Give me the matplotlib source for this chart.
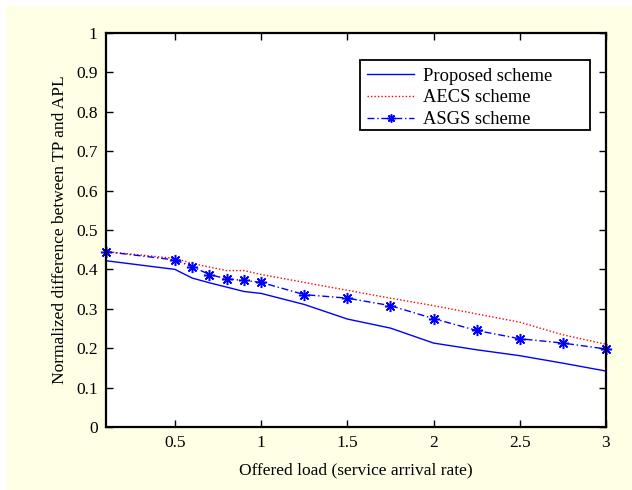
import matplotlib
matplotlib.use("Agg")
import matplotlib.pyplot as plt
from matplotlib.patches import Rectangle

x_asgs = [0.1, 0.5, 0.6, 0.7, 0.8, 0.9, 1.0, 1.25, 1.5, 1.75, 2.0, 2.25, 2.5, 2.75, 3.0]
y_asgs = [0.445, 0.424, 0.407, 0.387, 0.376, 0.372, 0.367, 0.336, 0.327, 0.308, 0.275, 0.245, 0.224, 0.213, 0.198]

x_prop = [0.1, 0.5, 0.6, 0.7, 0.8, 0.9, 1.0, 1.25, 1.5, 1.75, 2.0, 2.25, 2.5, 2.75, 3.0]
y_prop = [0.422, 0.400, 0.378, 0.366, 0.355, 0.344, 0.339, 0.311, 0.274, 0.251, 0.213, 0.196, 0.181, 0.162, 0.142]

x_aecs = [0.1, 0.5, 0.6, 0.7, 0.8, 0.9, 1.0, 1.25, 1.5, 1.75, 2.0, 2.25, 2.5, 2.75, 3.0]
y_aecs = [0.445, 0.428, 0.415, 0.406, 0.397, 0.397, 0.387, 0.367, 0.347, 0.327, 0.308, 0.287, 0.266, 0.234, 0.210]

labels = ["Proposed scheme", "AECS scheme", "ASGS scheme"]
xticks = [0.5, 1, 1.5, 2, 2.5, 3]
yticks = [0, 0.1, 0.2, 0.3, 0.4, 0.5, 0.6, 0.7, 0.8, 0.9, 1]

plt.rcParams['font.family'] = ['Liberation Serif', 'DejaVu Serif']

fig = plt.figure(figsize=(6.32, 4.90), dpi=100, facecolor='white')
fig.patches.append(Rectangle((6/632, 0), 1 - 6/632, 1 - 6/490, transform=fig.transFigure,
                             facecolor='#FFFFE6', edgecolor='none', zorder=-10))
ax = fig.add_axes([106/632, 1 - 427/490, 500/632, 394/490])
ax.set_facecolor('white')

ax.plot(x_prop, y_prop, color='#0000FF', lw=1.0, label=labels[0])
ax.plot(x_aecs, y_aecs, color='#FF0000', lw=1.0, ls=(0, (1, 1.5)), label=labels[1])
ax.plot(x_asgs, y_asgs, color='#0000FF', lw=1.0, ls=(0, (5, 2, 1, 2)), marker=(8, 2, 0),
        markersize=8, markeredgewidth=1.1, label=labels[2], clip_on=False)

ax.set_xlim(0.1, 3)
ax.set_ylim(0, 1)
ax.set_xticks(xticks)
ax.set_xticklabels([f"{t:g}" for t in xticks])
ax.set_yticks(yticks)
ax.set_yticklabels([f"{t:g}" for t in yticks])
ax.tick_params(direction='in', length=5, width=1, top=True, right=True,
               labelsize=12.5, pad=6)
for s in ax.spines.values():
    s.set_linewidth(1.6)

ax.set_xlabel("Offered load (service arrival rate)", fontsize=12.5, labelpad=8)
ax.set_ylabel("Normalized difference between TP and APL", fontsize=12.5, labelpad=6)

ax.add_patch(Rectangle((0.508, 0.754), 0.46, 0.178, transform=ax.transAxes,
                       facecolor='white', edgecolor='black', lw=1.3, zorder=4))
leg = ax.legend(loc='upper left', bbox_to_anchor=(0.522, 0.912), fontsize=13.3,
                frameon=False, handlelength=2.55, borderpad=0, labelspacing=0.26,
                handletextpad=0.5, borderaxespad=0, markerscale=0.75)
leg.set_zorder(5)

fig.savefig("out.png", dpi=100, facecolor=fig.get_facecolor())
